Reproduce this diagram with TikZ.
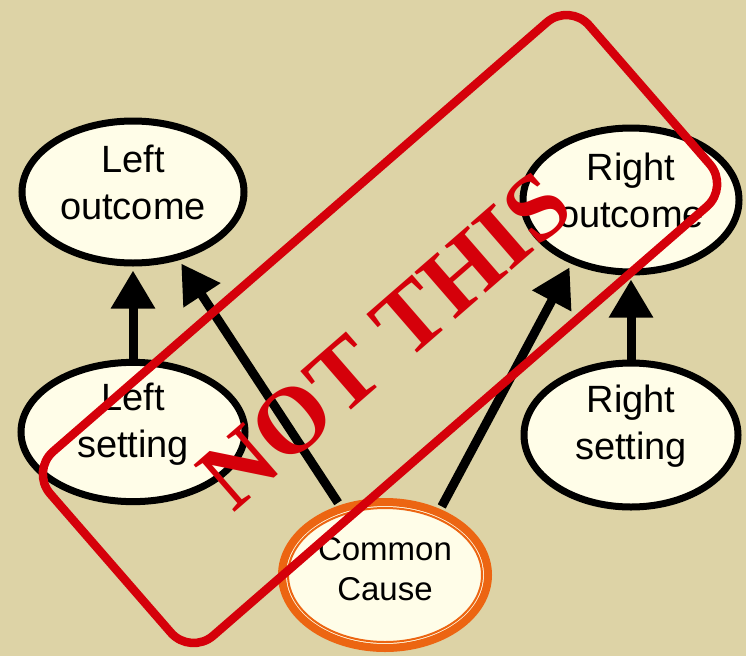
\documentclass[tikz,border=0pt]{standalone}
\usepackage{fontspec}
\setmainfont{Liberation Sans}
\newfontfamily\stampfont{Liberation Serif}
\usetikzlibrary{arrows.meta,shapes.geometric}
\definecolor{bg}{HTML}{DDD3A6}
\definecolor{cream}{HTML}{FFFDE8}
\definecolor{stampred}{HTML}{D5000A}
\definecolor{ccorange}{HTML}{EC6512}
\begin{document}
\begin{tikzpicture}[x=1pt,y=-1pt,
  oval/.style={ellipse, draw=black, line width=7pt, fill=cream, inner sep=0pt,
    font=\fontsize{38}{47}\selectfont, align=center, text depth=20pt},
  causal/.style={line width=9pt, -{Triangle[length=38pt,width=42pt]}, shorten >=4pt}]
\fill[bg] (0,0) rectangle (746,656);
\useasboundingbox (0,0) rectangle (746,656);

\node[oval, minimum width=222, minimum height=142] (lo) at (133,192) {Left\\outcome};
\node[oval, minimum width=216, minimum height=144] (ro) at (631,200) {Right\\outcome};
\node[oval, minimum width=224, minimum height=134, text depth=24pt] (ls) at (133,432) {Left\\setting};
\node[oval, minimum width=214, minimum height=144, text depth=26pt] (rs) at (631,435) {Right\\setting};
\node[oval, draw=ccorange, line width=8pt, minimum width=206, minimum height=146,
      font=\fontsize{33}{40}\selectfont, text depth=13pt] (cc) at (385,575) {Common\\Cause};
\draw[ccorange, line width=2pt] (cc.center) ellipse (97 and 67);

\draw[causal] (ls.north) -- (lo.south);
\draw[causal] (rs.north) -- (ro.south);
\draw[causal, shorten <=3pt] (cc.123) -- (lo.-56);
\draw[causal, shorten <=3pt] (cc.50) -- (ro.-133);

\node[draw=stampred, line width=8.5pt, rounded corners=30pt, minimum width=714,
      minimum height=244, rotate=41] (stamp) at (380,329) {};
\node[text=stampred, font=\stampfont\bfseries\fontsize{95}{95}\selectfont, rotate=41] (not) at (385,340) {NOT THIS};
\end{tikzpicture}
\end{document}
